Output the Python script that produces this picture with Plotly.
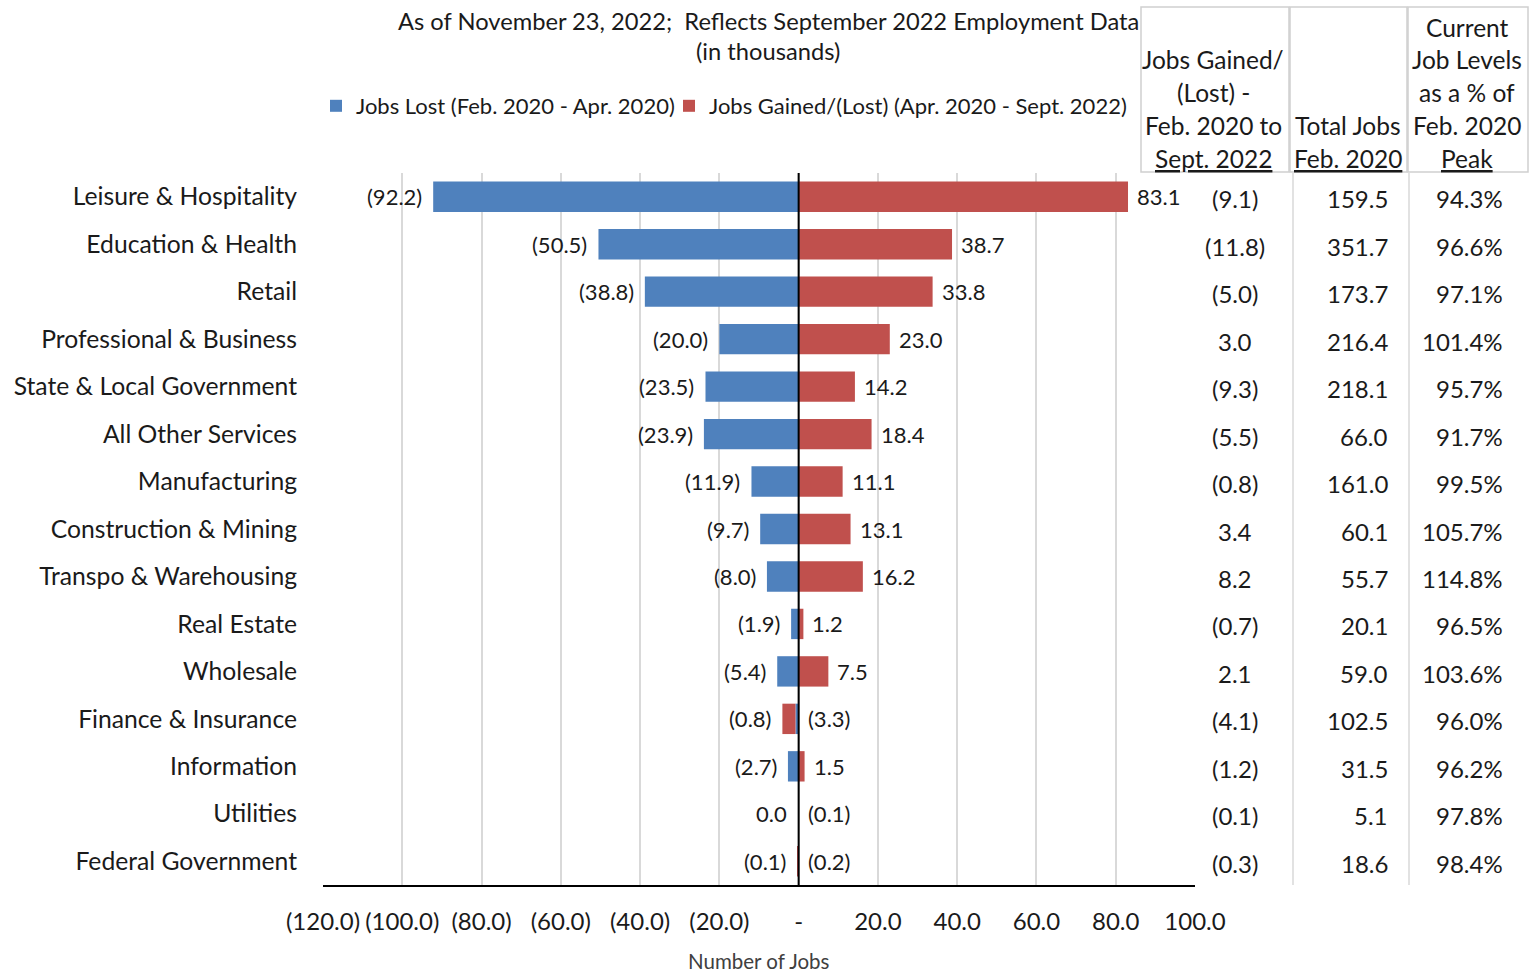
import plotly.graph_objects as go

categories = ["Leisure & Hospitality", "Education & Health", "Retail", "Professional & Business",
              "State & Local Government", "All Other Services", "Manufacturing", "Construction & Mining",
              "Transpo & Warehousing", "Real Estate", "Wholesale", "Finance & Insurance",
              "Information", "Utilities", "Federal Government"]
jobs_lost = [-92.2, -50.5, -38.8, -20.0, -23.5, -23.9, -11.9, -9.7, -8.0, -1.9, -5.4, -0.8, -2.7, 0.0, -0.1]
jobs_gained = [83.1, 38.7, 33.8, 23.0, 14.2, 18.4, 11.1, 13.1, 16.2, 1.2, 7.5, -3.3, 1.5, -0.1, -0.2]
net_change = [-9.1, -11.8, -5.0, 3.0, -9.3, -5.5, -0.8, 3.4, 8.2, -0.7, 2.1, -4.1, -1.2, -0.1, -0.3]
total_feb2020 = [159.5, 351.7, 173.7, 216.4, 218.1, 66.0, 161.0, 60.1, 55.7, 20.1, 59.0, 102.5, 31.5, 5.1, 18.6]
pct_of_peak = [94.3, 96.6, 97.1, 101.4, 95.7, 91.7, 99.5, 105.7, 114.8, 96.5, 103.6, 96.0, 96.2, 97.8, 98.4]
tick_vals = [-120, -100, -80, -60, -40, -20, 0, 20, 40, 60, 80, 100]

BLUE = "#4F81BD"
RED = "#C0504D"
FONT = "Lato"
TXT = "#1a1a1a"

W, H = 1532, 972
L, R, T, B = 323, 1195, 173, 885


def fmt(v, zero="0.0"):
    if v == 0:
        return zero
    return f"({abs(v):.1f})" if v < 0 else f"{v:.1f}"


def px(xp):
    return (xp - L) / (R - L)


def py(yp):
    return (B - yp) / (B - T)


fig = go.Figure()
fig.add_trace(go.Bar(y=categories, x=jobs_lost, orientation="h", name="Jobs Lost (Feb. 2020 - Apr. 2020)",
                     marker=dict(color=BLUE, line=dict(width=0)), width=0.64, legend="legend"))
fig.add_trace(go.Bar(y=categories, x=jobs_gained, orientation="h",
                     name="Jobs Gained/(Lost) (Apr. 2020 - Sept. 2022)",
                     marker=dict(color=RED, line=dict(width=0)), width=0.64, legend="legend2"))

annotations = []
# data labels, anchored at bar ends
for cat, b, r in zip(categories, jobs_lost, jobs_gained):
    annotations.append(dict(x=b + min(r, 0), y=cat, xref="x", yref="y", text=fmt(b), showarrow=False,
                            xanchor="right", xshift=-9, font=dict(family=FONT, size=22, color=TXT)))
    annotations.append(dict(x=max(r, 0), y=cat, xref="x", yref="y", text=fmt(r), showarrow=False,
                            xanchor="left", xshift=7, font=dict(family=FONT, size=22, color=TXT)))

# table values
for cat, n, t, p in zip(categories, net_change, total_feb2020, pct_of_peak):
    annotations.append(dict(x=px(1235), y=cat, xref="paper", yref="y", text=fmt(n), showarrow=False,
                            xanchor="center", yshift=-2, font=dict(family=FONT, size=24, color=TXT)))
    annotations.append(dict(x=px(1390), y=cat, xref="paper", yref="y", text=f"{t:.1f}", showarrow=False,
                            xanchor="right", yshift=-2, font=dict(family=FONT, size=24, color=TXT)))
    annotations.append(dict(x=px(1505), y=cat, xref="paper", yref="y", text=f"{p:.1f}%", showarrow=False,
                            xanchor="right", yshift=-2, font=dict(family=FONT, size=24, color=TXT)))

# table headers
headers = [
    (1213, [(60, "Jobs Gained/"), (92, "(Lost) -"), (126, "Feb. 2020 to"), (158, "<u>Sept. 2022</u>")]),
    (1348, [(126, "Total Jobs"), (158, "<u>Feb. 2020</u>")]),
    (1467, [(27, "Current"), (60, "Job Levels"), (92, "as a % of"), (126, "Feb. 2020"), (158, "<u>Peak</u>")]),
]
for xc, lines in headers:
    for yc, txt in lines:
        annotations.append(dict(x=px(xc), y=py(yc), xref="paper", yref="paper", text=txt, showarrow=False,
                                xanchor="center", yanchor="middle", font=dict(family=FONT, size=24.5, color=TXT)))

# subtitle
annotations.append(dict(x=px(768), y=py(21), xref="paper", yref="paper",
                        text="As of November 23, 2022;  Reflects September 2022 Employment Data",
                        showarrow=False, xanchor="center", yanchor="middle",
                        font=dict(family=FONT, size=23.7, color=TXT)))
annotations.append(dict(x=px(768), y=py(51), xref="paper", yref="paper", text="(in thousands)",
                        showarrow=False, xanchor="center", yanchor="middle",
                        font=dict(family=FONT, size=23.7, color=TXT)))
# axis title
annotations.append(dict(x=px(759), y=py(961), xref="paper", yref="paper", text="Number of Jobs",
                        showarrow=False, xanchor="center", yanchor="middle",
                        font=dict(family=FONT, size=20.5, color="#404040")))

shapes = []
# header boxes
for x0, x1 in [(1141, 1289), (1290, 1407), (1408, 1528)]:
    shapes.append(dict(type="rect", xref="paper", yref="paper", x0=px(x0), x1=px(x1), y0=py(172), y1=py(7),
                       line=dict(color="#d0d0d0", width=1.5)))
# table column separators
for xl in [1293, 1409]:
    shapes.append(dict(type="line", xref="paper", yref="paper", x0=px(xl), x1=px(xl), y0=0, y1=1,
                       line=dict(color="#d9d9d9", width=1.5)))
# zero line on top of bars
shapes.append(dict(type="line", xref="x", yref="paper", x0=0, x1=0, y0=0, y1=1, layer="above",
                   line=dict(color="black", width=2)))

legend_common = dict(orientation="h", xref="paper", yref="paper", xanchor="left", yanchor="middle",
                     font=dict(family=FONT, size=22, color=TXT), itemclick=False,
                     bgcolor="rgba(0,0,0,0)")

fig.update_layout(
    width=W, height=H,
    margin=dict(l=L, r=W - R, t=T, b=H - B, pad=0),
    barmode="relative",
    plot_bgcolor="white", paper_bgcolor="white",
    font=dict(family=FONT, size=22, color=TXT),
    showlegend=True,
    legend=dict(x=px(316), y=py(106), **legend_common),
    legend2=dict(x=px(669), y=py(106), **legend_common),
    xaxis=dict(range=[-120, 100], tickvals=tick_vals, ticktext=[fmt(v, "-") for v in tick_vals],
               showgrid=True, gridcolor="#d9d9d9", gridwidth=2, zeroline=False,
               showline=True, linecolor="black", linewidth=2, ticks="",
               ticklabelstandoff=14, tickfont=dict(family=FONT, size=24, color=TXT)),
    yaxis=dict(categoryorder="array", categoryarray=categories, range=[len(categories) - 0.5, -0.5],
               showgrid=False, zeroline=False, showline=False, ticks="",
               ticklabelstandoff=25, tickfont=dict(family=FONT, size=24.7, color=TXT)),
    annotations=annotations,
    shapes=shapes,
)

fig.write_html("out.html")
